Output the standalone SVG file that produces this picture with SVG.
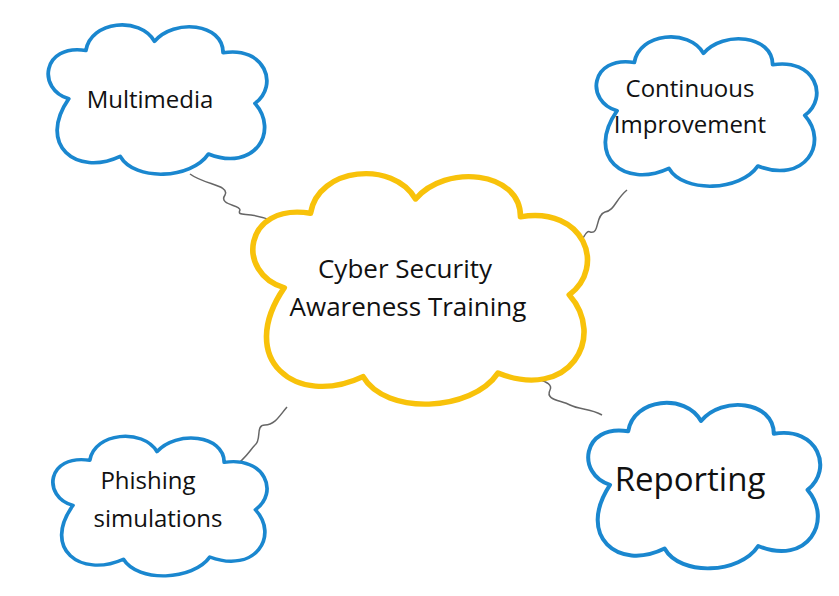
<svg xmlns="http://www.w3.org/2000/svg" width="839" height="596" viewBox="0 0 839 596">
<style>
.c{fill:#fff;stroke:#1a87cf;stroke-width:1.55;stroke-linejoin:round}
.y{fill:#fff;stroke:#f8c20a;stroke-width:1.5;stroke-linejoin:round}
.t{font-family:"Open Sans","Noto Sans",sans-serif;fill:#111;text-anchor:middle}
.s{fill:none;stroke:#666;stroke-width:1.5}
</style>
<defs>
<path id="cl" d="M15,36 C2,32 4,12 22,15 C24,2 44,0 50,11 C58,1 78,3 78,16 C95,13 101,30 91,38 C101,50 91,68 72,60 C65,71 42,72 36,61 C18,70 2,56 15,36 Z"/>
</defs>
<rect width="839" height="596" fill="#fff"/>
<g id="connectors">
<path class="s" d="M190,174 C205,185 230,185 225,195 C218,205 240,205 240,210 C236,218 250,210 275,222"/>
<path class="s" d="M627,190 C615,200 615,210 605,212 C595,215 600,235 590,232 C585,228 580,250 568,260"/>
<path class="s" d="M520,368 C530,380 555,380 550,390 C545,400 560,400 570,405 C580,410 590,408 602,415"/>
<path class="s" d="M287,407 C280,415 275,425 265,425 C255,425 262,440 255,445 C250,450 245,460 233,467"/>
</g>
<g id="center"><use href="#cl" class="y" transform="translate(228,160) scale(3.75,3.55)"/>
<text class="t" font-size="26" x="405" y="278">Cyber Security</text>
<text class="t" font-size="26" x="408" y="316">Awareness Training</text></g>
<g id="multimedia"><use href="#cl" class="c" transform="translate(32,16) scale(2.45,2.3)"/>
<text class="t" font-size="24" x="150" y="108">Multimedia</text></g>
<g id="continuous"><use href="#cl" class="c" transform="translate(580,28) scale(2.47,2.3)"/>
<text class="t" font-size="24" x="690" y="97">Continuous</text>
<text class="t" font-size="24" x="690" y="133">Improvement</text></g>
<g id="phishing"><use href="#cl" class="c" transform="translate(37,428) scale(2.4,2.15)"/>
<text class="t" font-size="24" x="148" y="489">Phishing</text>
<text class="t" font-size="24" x="158" y="527">simulations</text></g>
<g id="reporting"><use href="#cl" class="c" transform="translate(571,393) scale(2.6,2.55)"/>
<text class="t" font-size="33" x="690" y="491">Reporting</text></g>
</svg>
